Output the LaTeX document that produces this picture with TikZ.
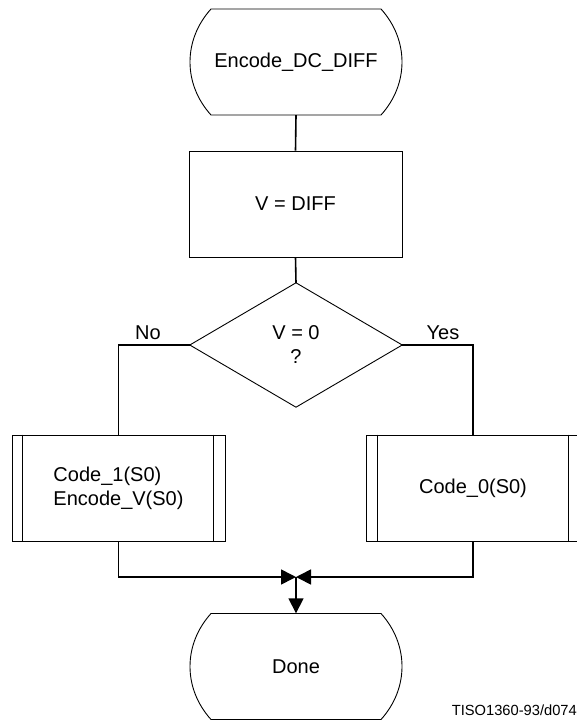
\documentclass[tikz,border=0pt]{standalone}
\usepackage{fontspec}
\setmainfont{Liberation Sans}
\usetikzlibrary{arrows.meta,calc}
\tikzset{
  shapeline/.style={draw=black,line width=0.9pt},
  conn/.style={draw=black,line width=1.6pt},
  txt/.style={font=\fontsize{20}{24}\selectfont,inner sep=0pt,align=center},
  procbox/.style={txt,shapeline,minimum width=213pt,minimum height=106pt},
  subbox/.style={txt,shapeline,minimum width=213pt,minimum height=106pt,align=left},
  arr/.style={-{Triangle[length=15pt,width=15pt]}},
}
\newcommand\termnode[4]{%
  \node[txt,minimum width=216pt,minimum height=106pt] (#1) at (#2,#3) {#4};
  \draw[shapeline] (#2-85,#3-53) -- (#2+85,#3-53)
    .. controls (#2+113,#3-22) and (#2+113,#3+22) .. (#2+85,#3+53)
    -- (#2-85,#3+53)
    .. controls (#2-113,#3+22) and (#2-113,#3-22) .. cycle;}
\newcommand\subbars[1]{%
  \draw[shapeline] ([xshift=11pt]#1.north west) -- ([xshift=11pt]#1.south west);
  \draw[shapeline] ([xshift=-12pt]#1.north east) -- ([xshift=-12pt]#1.south east);}
\begin{document}
\begin{tikzpicture}[x=1pt,y=-1pt]
\useasboundingbox (0,0) rectangle (577,722);
\clip (0,0) rectangle (577,722);
\termnode{start}{296}{62}{Encode\_DC\_DIFF}
\node[procbox] (assign) at (295.5,204) {V = DIFF};
\node[txt,minimum width=212pt,minimum height=124pt] (dec) at (296,345) {V = 0\\?};
\draw[shapeline] (dec.north) -- (dec.east) -- (dec.south) -- (dec.west) -- cycle;
\node[subbox] (lb) at (118.5,488) {Code\_1(S0)\\Encode\_V(S0)};
\subbars{lb}
\node[subbox] (rb) at (473,488) {Code\_0(S0)};
\subbars{rb}
\termnode{done}{296}{666.5}{Done}
\coordinate (m) at (296,577);
\node[txt] (no) at (148,333) {No};
\node[txt] (yes) at (443,333) {Yes};
\draw[conn] (start.south) -- (assign.north);
\draw[conn] (assign.south) -- (dec.north);
\draw[conn] (dec.west) -| (lb.north);
\draw[conn] (dec.east) -| (rb.north);
\draw[conn,arr] (lb.south) |- (m);
\draw[conn,arr] (rb.south) |- (m);
\draw[conn,arr] (m) -- (done.north);
\node[font=\fontsize{14.7}{17}\selectfont,inner sep=0pt,anchor=east] (ref) at (577,710) {TISO1360-93/d074};
\end{tikzpicture}
\end{document}
